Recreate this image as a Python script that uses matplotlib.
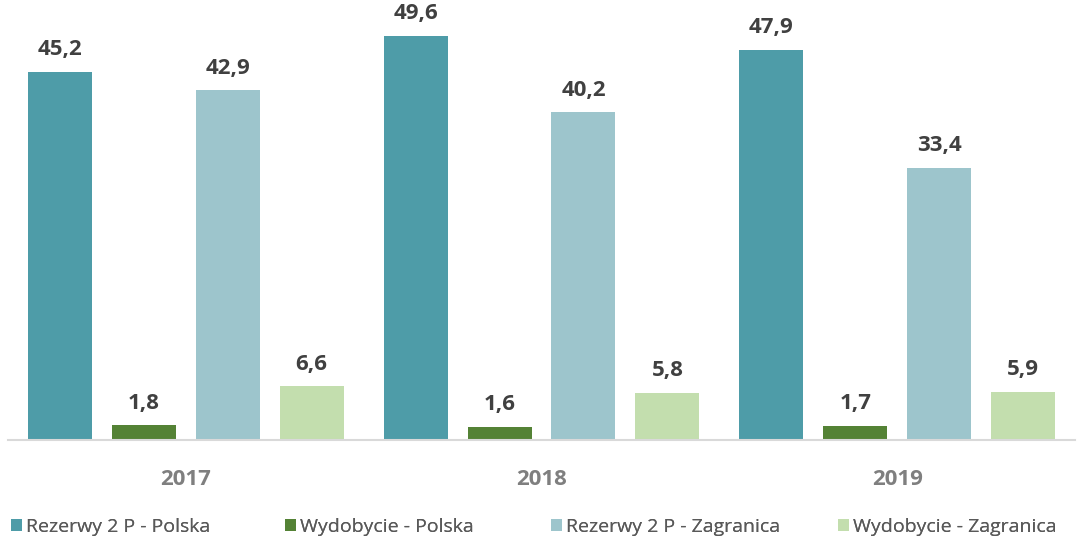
import matplotlib.pyplot as plt
import numpy as np

plt.rcParams['font.family'] = ['Open Sans', 'DejaVu Sans']

years = ['2017', '2018', '2019']
series = ['Rezerwy 2 P - Polska', 'Wydobycie - Polska',
          'Rezerwy 2 P - Zagranica', 'Wydobycie - Zagranica']
rez_pl = [45.2, 49.6, 47.9]
wyd_pl = [1.8, 1.6, 1.7]
rez_zagr = [42.9, 40.2, 33.4]
wyd_zagr = [6.6, 5.8, 5.9]
colors = ['#4E9CA8', '#548235', '#9DC5CC', '#C3DEAE']

W, H = 1083, 538
fig = plt.figure(figsize=(W / 100, H / 100), dpi=100)
ax = fig.add_axes([8 / W, 98 / H, 1067 / W, 440 / H])

x = np.arange(len(years))
step = 84 / 356
width = 64 / 356
handles = []
for i, (vals, name, c) in enumerate(zip([rez_pl, wyd_pl, rez_zagr, wyd_zagr], series, colors)):
    pos = x + (i - 1.5) * step
    b = ax.bar(pos, vals, width, color=c, label=name)
    handles.append(b)
    for p, v in zip(pos, vals):
        ax.annotate(f'{v:.1f}'.replace('.', ','), (p, v), xytext=(0, 12),
                    textcoords='offset points', ha='center', va='baseline',
                    fontsize=16, fontweight='bold', color='#404040')

ax.set_xlim(-0.5, 2.5)
ax.set_ylim(0, 54)
ax.set_yticks([])
ax.set_xticks(x)
ax.set_xticklabels(years, fontsize=16, fontweight='bold', color='#7F7F7F')
ax.tick_params(axis='x', length=0, pad=21)
for s in ['top', 'right', 'left']:
    ax.spines[s].set_visible(False)
ax.spines['bottom'].set_color('#D9D9D9')
ax.spines['bottom'].set_linewidth(1.5)

# legend entries placed one by one, like the original
legend_x = [11, 285, 551, 838]
for h, name, lx in zip(handles, series, legend_x):
    lg = fig.legend(handles=[h], labels=[name], loc='center left',
                    bbox_to_anchor=(lx / W, 11 / H), frameon=False, fontsize=14,
                    handlelength=0.55, handleheight=0.55, handletextpad=0.2,
                    labelcolor='#595959', borderpad=0, borderaxespad=0)
    fig.add_artist(lg)

fig.savefig('out.png', dpi=100)
